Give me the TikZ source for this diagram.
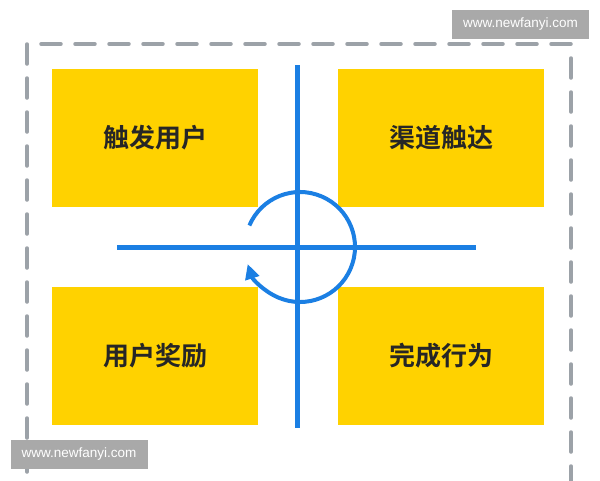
\documentclass[tikz,border=0pt]{standalone}
\usepackage{fontspec}
\setmainfont{Liberation Sans}
\newfontfamily\cjk{Noto Sans CJK SC Bold}
\usetikzlibrary{arrows.meta}
\definecolor{ybox}{HTML}{FFD200}
\definecolor{bline}{HTML}{1B7FE3}
\definecolor{dgray}{HTML}{9CA2A8}
\definecolor{wmgray}{HTML}{A9A9A9}
\tikzset{
  quad/.style={fill=ybox, draw=none, minimum width=206pt, minimum height=138pt, inner sep=0pt, font=\cjk\fontsize{26}{26}\selectfont, text=black!85},
  axis/.style={draw=bline, line width=5pt},
  wm/.style={fill=wmgray, text=white, font=\fontsize{13.5}{13.5}\selectfont, inner sep=0pt, minimum width=137pt, minimum height=29pt}
}
\begin{document}
\begin{tikzpicture}[x=1pt,y=-1pt]
\useasboundingbox (0,0) rectangle (600,480);
\begin{scope}
\clip (0,0) rectangle (600,480);
\draw[dgray, line width=3.5pt, dash pattern=on 20pt off 14pt, line cap=round] (27,44) rectangle (571,520);
\end{scope}
\node[quad] (tl) at (155,138) {触发用户};
\node[quad] (tr) at (441,138) {渠道触达};
\node[quad] (bl) at (155,356) {用户奖励};
\node[quad] (br) at (441,356) {完成行为};
\coordinate (vt) at (297,65);
\coordinate (vb) at (297,428);
\coordinate (hl) at (117,247);
\coordinate (hr) at (476,247);
\coordinate (c) at (300,247);
\draw[axis] (vt) -- (vb);
\draw[axis] (hl) -- (hr);
\draw[bline, line width=4pt, -{Triangle[length=15pt,width=14pt]}] ([shift={(157:55pt)}]c) arc[start angle=157, end angle=-162, radius=55pt];
\node[wm] (w1) at (520.5,24.5) {www.newfanyi.com};
\node[wm] (w2) at (79,454.5) {www.newfanyi.com};
\end{tikzpicture}
\end{document}
